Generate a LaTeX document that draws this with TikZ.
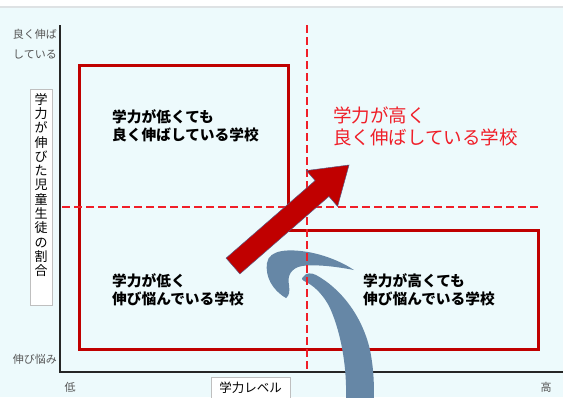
\documentclass[tikz,border=0pt]{standalone}
\usepackage{fontspec}
\setmainfont{Noto Sans CJK JP}
\definecolor{bgcyan}{RGB}{237,250,252}
\definecolor{topline}{RGB}{222,226,228}
\definecolor{boxred}{RGB}{192,0,0}
\definecolor{dashred}{RGB}{240,30,40}
\definecolor{swoosh}{RGB}{102,135,166}
\definecolor{labgray}{RGB}{85,85,85}
\tikzset{
  quadframe/.style={draw=boxred, line width=3pt, line join=miter},
  divline/.style={draw=dashred, line width=1.5pt, dash pattern=on 8pt off 4pt},
  axisline/.style={draw=black!85, line width=1.8pt},
  axlab/.style={text=labgray, font=\fontsize{11}{13}\selectfont, inner sep=0pt},
  quadtext/.style={font=\bfseries\fontsize{14.7}{17.5}\selectfont, align=left, anchor=west, inner sep=0pt},
  bigtext/.style={text=dashred, font=\fontsize{18.5}{22}\selectfont, align=left, anchor=west, inner sep=0pt},
  labelbox/.style={draw=black!25, fill=white, line width=0.8pt, inner sep=0pt}
}
\begin{document}
\begin{tikzpicture}[x=1pt,y=-1pt]
\useasboundingbox (0,0) rectangle (563,397);
\clip (0,0) rectangle (563,397);
% background
\fill[white] (0,0) rectangle (563,397);
\fill[bgcyan] (0,7) rectangle (563,397);
\draw[topline, line width=1.5pt] (0,7) -- (563,7);
% axes
\coordinate (ytop) at (60,25);
\coordinate (origin) at (60,372);
\coordinate (xend) at (563,372);
\draw[axisline] (ytop) -- (origin) -- (xend);
% quadrant frame
\draw[quadframe] (79,65) -- (288,65) -- (288,230) -- (538,230) -- (538,349) -- (79,349) -- cycle;
% swoosh
\fill[swoosh] (286,298) .. controls (272,290) and (265,276) .. (267,263)
  .. controls (269,249) and (290,249) .. (308,252)
  .. controls (325,255) and (342,262) .. (354,270)
  .. controls (338,267) and (318,264) .. (302,266)
  .. controls (291,268) and (287,276) .. (289,285)
  .. controls (290,292) and (289,296) .. (286,298) -- cycle;
\fill[swoosh] (303,277) .. controls (306,272) and (312,273) .. (316,275)
  .. controls (340,288) and (362,315) .. (370,350)
  .. controls (374,370) and (374,385) .. (374,400)
  -- (346,400)
  .. controls (347,370) and (342,335) .. (330,308)
  .. controls (322,292) and (312,285) .. (306,282)
  .. controls (302,280) and (301,279) .. (303,277) -- cycle;
% dashed dividers
\coordinate (vtop) at (307,25);
\coordinate (vbot) at (307,370);
\coordinate (hleft) at (62,207);
\coordinate (hright) at (538,207);
\draw[divline] (vtop) -- (vbot);
\draw[divline] (hleft) -- (hright);
% red arrow
\fill[boxred, draw=black!45!blue!30!gray, line width=0.5pt, line join=miter]
  (226.1,258.1) -- (315.1,180.6) -- (306.4,170.6) -- (349,165)
  -- (337.6,206.4) -- (328.9,196.4) -- (239.9,273.9) -- cycle;
% quadrant texts
\node[quadtext] (tl) at (112,126) {学力が低くても\\良く伸ばしている学校};
\node[bigtext] (tr) at (333,126) {学力が高く\\良く伸ばしている学校};
\node[quadtext] (bl) at (112,290) {学力が低く\\伸び悩んでいる学校};
\node[quadtext] (br) at (363,290) {学力が高くても\\伸び悩んでいる学校};
% axis labels
\node[axlab, anchor=east] (good1) at (57,34) {良く伸ば};
\node[axlab, anchor=east] (good2) at (57,54) {している};
\node[axlab, anchor=east] (stuck) at (57,359) {伸び悩み};
\node[axlab] (low) at (70,387) {低};
\node[axlab] (high) at (546,387) {高};
\draw[labelbox] (211,377) rectangle (290,402);
\node[inner sep=0pt, font=\fontsize{12.5}{14}\selectfont] (xlab) at (250.5,388) {学力レベル};
\draw[labelbox] (30,89) rectangle (52,305);
\node[inner sep=0pt, anchor=north, align=center, font=\fontsize{13}{14.3}\selectfont] (ylab) at (41,93)
  {学\\力\\が\\伸\\び\\た\\児\\童\\生\\徒\\の\\割\\合};
\end{tikzpicture}
\end{document}
